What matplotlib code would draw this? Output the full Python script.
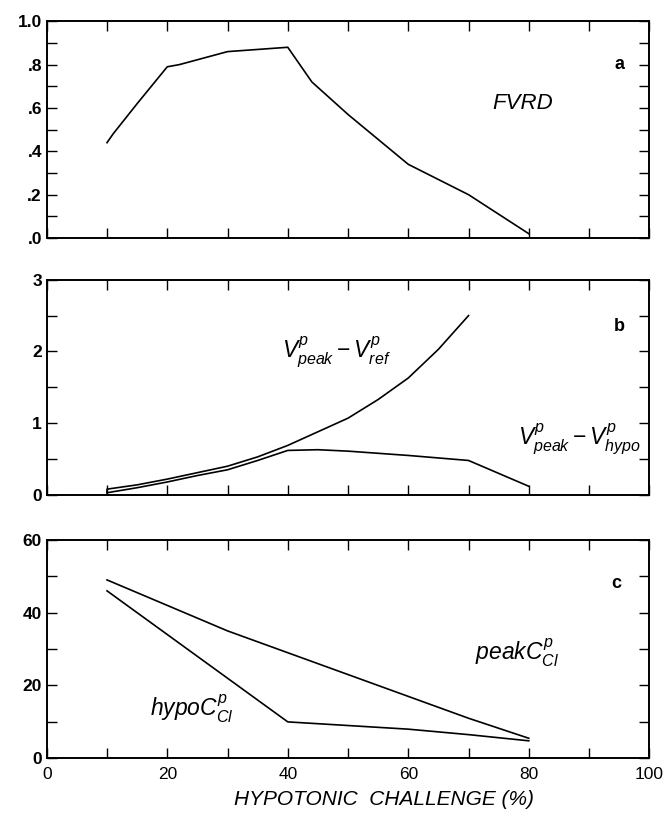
import matplotlib.pyplot as plt
from matplotlib.ticker import MultipleLocator, FuncFormatter

plt.rcParams['font.family'] = ['Liberation Sans', 'DejaVu Sans']
plt.rcParams['mathtext.fontset'] = 'custom'
plt.rcParams['mathtext.it'] = 'Liberation Sans:italic'
plt.rcParams['mathtext.rm'] = 'Liberation Sans'

# panel a
x_fvrd = [10, 11, 15, 20, 22, 30, 40, 44, 50, 60, 70, 80]
fvrd = [0.44, 0.48, 0.62, 0.79, 0.80, 0.86, 0.88, 0.72, 0.57, 0.34, 0.20, 0.02]

# panel b
x_ref = [10, 10, 15, 20, 25, 30, 35, 40, 45, 50, 55, 60, 65, 70]
v_ref = [0.03, 0.08, 0.14, 0.22, 0.31, 0.40, 0.53, 0.69, 0.88, 1.07, 1.33, 1.63, 2.03, 2.50]
x_hypo = [10, 15, 20, 25, 30, 35, 40, 45, 50, 60, 70, 80]
v_hypo = [0.03, 0.10, 0.18, 0.27, 0.35, 0.48, 0.62, 0.63, 0.61, 0.55, 0.48, 0.12]

# panel c
x_cl = [10, 20, 30, 40, 50, 60, 70, 80]
peak_cl = [49, 42, 35, 29, 23, 17, 11, 5.5]
hypo_cl = [46, 34, 22, 10, 9, 8, 6.5, 4.8]

fig = plt.figure(figsize=(6.68, 8.18), dpi=100)
left, width = 0.070, 0.902
ax_a = fig.add_axes([left, 0.709, width, 0.265])
ax_b = fig.add_axes([left, 0.395, width, 0.263])
ax_c = fig.add_axes([left, 0.073, width, 0.267])

ax_a.plot(x_fvrd, fvrd, color='black', lw=1.2)
ax_b.plot(x_ref, v_ref, color='black', lw=1.2)
ax_b.plot(x_hypo, v_hypo, color='black', lw=1.2)
ax_c.plot(x_cl, peak_cl, color='black', lw=1.2)
ax_c.plot(x_cl, hypo_cl, color='black', lw=1.2)

ax_a.set_ylim(0, 1.0)
ax_a.yaxis.set_major_locator(MultipleLocator(0.2))
ax_a.yaxis.set_minor_locator(MultipleLocator(0.1))
ax_a.yaxis.set_major_formatter(FuncFormatter(lambda v, p: ('%.1f' % v).lstrip('0') if v < 1 else '%.1f' % v))

ax_b.set_ylim(0, 3)
ax_b.yaxis.set_major_locator(MultipleLocator(1))
ax_b.yaxis.set_minor_locator(MultipleLocator(0.5))

ax_c.set_ylim(0, 60)
ax_c.yaxis.set_major_locator(MultipleLocator(20))
ax_c.yaxis.set_minor_locator(MultipleLocator(10))

for ax in (ax_a, ax_b, ax_c):
    ax.set_xlim(0, 100)
    ax.xaxis.set_major_locator(MultipleLocator(20))
    ax.xaxis.set_minor_locator(MultipleLocator(10))
    ax.tick_params(which='both', direction='in', top=True, right=True,
                   width=1.0, length=7)
    for s in ax.spines.values():
        s.set_linewidth(1.4)
    for lab in ax.get_yticklabels():
        lab.set_fontweight('bold')
        lab.set_fontsize(12.5)

ax_a.tick_params(axis='x', labelbottom=False)
ax_b.tick_params(axis='x', labelbottom=False)
ax_c.tick_params(axis='x', labelsize=12.5, pad=6)
ax_c.set_xlabel('HYPOTONIC  CHALLENGE (%)', fontsize=15, style='italic',
                labelpad=6)
ax_c.xaxis.set_label_coords(0.56, -0.145)

ax_a.text(79, 0.62, 'FVRD', fontsize=16, style='italic', ha='center', va='center')
ax_a.text(95, 0.80, 'a', fontsize=13, fontweight='bold', ha='center', va='center')

ax_b.text(48, 2.0, r'$V^p_{peak} - V^p_{ref}$', fontsize=16.5, ha='center', va='center')
ax_b.text(88.5, 0.78, r'$V^p_{peak} - V^p_{hypo}$', fontsize=16.5, ha='center', va='center')
ax_b.text(95, 2.35, 'b', fontsize=13, fontweight='bold', ha='center', va='center')

ax_c.text(78, 29, r'$peakC^p_{Cl}$', fontsize=16.5, ha='center', va='center')
ax_c.text(24, 13.5, r'$hypoC^p_{Cl}$', fontsize=16.5, ha='center', va='center')
ax_c.text(94.5, 48, 'c', fontsize=13, fontweight='bold', ha='center', va='center')

fig.savefig('out.png', dpi=100)
